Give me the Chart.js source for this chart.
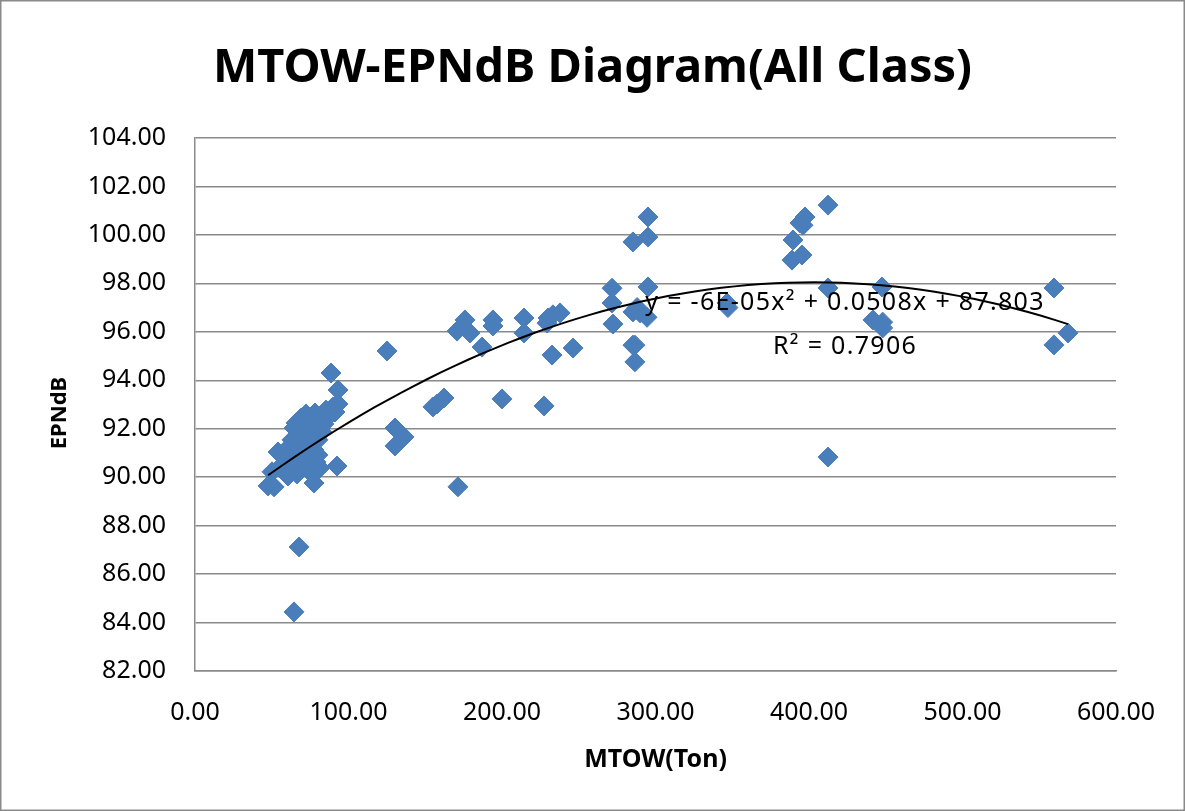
<!DOCTYPE html>
<html>
<head>
<meta charset="utf-8">
<script src="https://cdn.jsdelivr.net/npm/chart.js@4/dist/chart.umd.min.js"></script>
<style>
  html, body { margin: 0; padding: 0; background: #fff; }
  #wrap { width: 1185px; height: 811px; }
</style>
</head>
<body>
<div id="wrap"><canvas id="mtowChart" width="1185" height="811"></canvas></div>
<script>
    // MTOW (ton) and EPNdB
    const mtow = [
        47.6, 51.5, 50.2, 54.1, 56.7, 59.9, 61.2, 63.2, 64.5, 65.8,
        67.8, 69.1, 72.3, 75.6, 78.2, 81.4, 84.0, 87.3, 89.9, 88.6,
        93.2, 93.2, 91.2, 74.3, 71.0, 68.4, 65.1, 62.5, 60.6, 66.4,
        70.4, 74.3, 77.5, 80.1, 82.7, 78.8, 76.2, 77.5, 81.4, 80.1,
        92.5, 67.8, 64.5, 58.0, 71.7, 77.5, 85.3,
        125.1, 130.3, 136.2, 130.3, 155.0, 157.7, 162.2, 171.3, 170.7, 175.9,
        179.2, 187.0, 194.1, 194.1, 200.0, 214.3, 214.3, 229.3, 233.2, 237.8,
        230.0, 227.4, 232.6, 246.3,
        271.7, 272.3, 285.3, 285.3, 285.3, 295.1, 295.1, 295.1, 271.7, 290.0,
        294.5, 288.0, 286.6, 286.6, 346.6, 347.2,
        389.6, 388.9, 395.4, 394.1, 397.4, 396.1, 412.4, 412.4, 412.4,
        441.7, 447.6, 448.0, 448.0, 559.6, 568.7, 559.6
    ];
    const epndb = [
        89.64, 89.60, 90.22, 91.04, 90.50, 90.79, 91.25, 91.54, 92.03, 92.24,
        91.87, 92.44, 92.61, 92.36, 92.65, 92.44, 92.20, 92.53, 92.90, 94.30,
        93.60, 93.02, 92.69, 91.95, 91.54, 91.21, 90.79, 90.46, 90.05, 90.13,
        90.46, 90.79, 91.12, 91.54, 91.87, 90.63, 90.13, 89.76, 90.38, 90.92,
        90.46, 87.12, 84.44, 90.30, 92.16, 92.07, 92.77,
        95.21, 92.03, 91.66, 91.29, 92.90, 93.02, 93.27, 89.60, 96.03, 96.49,
        95.95, 95.37, 96.49, 96.24, 93.23, 96.57, 95.95, 96.36, 96.70, 96.78,
        96.57, 92.94, 95.04, 95.33,
        97.80, 96.32, 99.71, 96.82, 95.45, 100.74, 99.91, 97.85, 97.19, 96.78,
        96.60, 97.00, 95.45, 94.76, 97.19, 97.00,
        99.79, 98.96, 99.17, 100.49, 100.74, 100.40, 101.23, 97.81, 90.83,
        96.49, 97.85, 96.40, 96.16, 97.81, 95.95, 95.46
    ];
    // polynomial trendline (order 2), as fitted in the sheet
    const trendCoef = [-6.3e-5, 0.0508, 87.803];
    const trendLabel = ['y = -6E-05x² + 0.0508x + 87.803', 'R² = 0.7906'];
    const chartTitle = 'MTOW-EPNdB Diagram(All Class)';
    const xTitle = 'MTOW(Ton)';
    const yTitle = 'EPNdB';

    const points = mtow.map((x, i) => ({ x: x, y: epndb[i] }));
    const xMin = Math.min(...mtow), xMax = Math.max(...mtow);
    const trend = [];
    for (let k = 0; k <= 60; k++) {
        const x = xMin + (xMax - xMin) * k / 60;
        trend.push({ x: x, y: trendCoef[0] * x * x + trendCoef[1] * x + trendCoef[2] });
    }

    const fontName = "'Noto Sans', 'DejaVu Sans', sans-serif";

    // titles, equation text and outer frame
    const extras = {
        id: 'extras',
        afterDatasetsDraw(chart) {
            const { ctx, scales, chartArea } = chart;
            ctx.save();
            ctx.fillStyle = '#000';

            // equation
            ctx.font = '25px ' + fontName;
            ctx.letterSpacing = '1.3px';
            ctx.textAlign = 'center';
            ctx.textBaseline = 'middle';
            const cx = scales.x.getPixelForValue(423.5);
            ctx.fillText(trendLabel[0], cx, scales.y.getPixelForValue(97.19));
            ctx.fillText(trendLabel[1], cx, scales.y.getPixelForValue(95.37));
            ctx.letterSpacing = '0px';

            // chart title
            ctx.font = 'bold 47px ' + fontName;
            ctx.textBaseline = 'alphabetic';
            ctx.fillText(chartTitle, chart.width / 2, 82);

            // axis titles
            ctx.textBaseline = 'middle';
            ctx.font = 'bold 25px ' + fontName;
            ctx.fillText(xTitle, (chartArea.left + chartArea.right) / 2, 760);
            ctx.font = 'bold 22px ' + fontName;
            ctx.translate(60, 413);
            ctx.rotate(-Math.PI / 2);
            ctx.fillText(yTitle, 0, 0);
            ctx.restore();
        },
        afterDraw(chart) {
            const ctx = chart.ctx;
            ctx.save();
            ctx.strokeStyle = '#8a8a8a';
            ctx.lineWidth = 1.5;
            ctx.strokeRect(0.75, 0.75, chart.width - 1.5, chart.height - 1.5);
            ctx.restore();
        }
    };

    const ctx = document.getElementById('mtowChart').getContext('2d');

    new Chart(ctx, {
        type: 'scatter',
        data: {
            datasets: [{
                label: 'EPNdB',
                data: points,
                order: 1,
                pointStyle: 'rectRot',
                pointRadius: 10,
                pointHoverRadius: 10,
                backgroundColor: '#4a7ebb',
                borderColor: '#4a7ebb',
                borderWidth: 1
            }, {
                type: 'line',
                label: 'Trend',
                data: trend,
                order: 0,
                borderColor: '#000',
                borderWidth: 2,
                pointRadius: 0,
                fill: false,
                tension: 0
            }]
        },
        options: {
            responsive: false,
            animation: false,
            layout: { padding: { left: 0, right: 69, top: 138, bottom: 0 } },
            plugins: {
                legend: { display: false },
                tooltip: { enabled: false },
                title: { display: false }
            },
            scales: {
                x: {
                    type: 'linear',
                    min: 0,
                    max: 600,
                    afterFit: s => { s.height = 140; },
                    ticks: {
                        stepSize: 100,
                        color: '#000',
                        padding: 27,
                        maxRotation: 0,
                        font: { family: fontName, size: 25 },
                        callback: v => v.toFixed(2)
                    },
                    grid: { display: false, drawTicks: false },
                    border: { display: true, color: '#8a8a8a', width: 1.5 }
                },
                y: {
                    type: 'linear',
                    min: 82,
                    max: 104,
                    afterFit: s => { s.width = 195; },
                    ticks: {
                        stepSize: 2,
                        color: '#000',
                        padding: 29,
                        font: { family: fontName, size: 25 },
                        callback: v => v.toFixed(2)
                    },
                    grid: { color: '#8a8a8a', lineWidth: 1.5, drawTicks: false },
                    border: { display: true, color: '#8a8a8a', width: 1.5 }
                }
            }
        },
        plugins: [extras]
    });
</script>
</body>
</html>
